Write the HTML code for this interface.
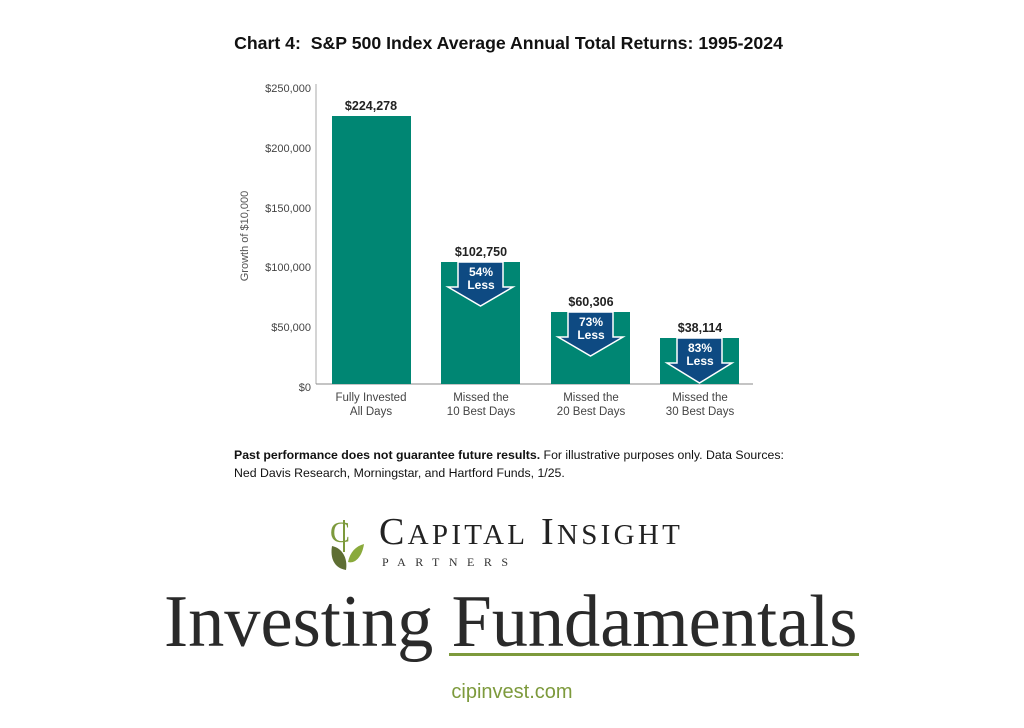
<!DOCTYPE html>
<html><head><style>
body{margin:0;background:#fff;width:1024px;height:728px;overflow:hidden;position:relative;font-family:"Liberation Sans",sans-serif}
.a{position:absolute;white-space:nowrap}
</style></head><body>
<div class="a" style="left:0;width:1017px;top:33px;text-align:center;font-weight:bold;font-size:17.7px;color:#111">Chart 4:&nbsp; S&amp;P 500 Index Average Annual Total Returns: 1995-2024</div>
<svg class="a" style="left:0;top:0" width="1024" height="440" font-family="Liberation Sans,sans-serif">
<g font-size="11" fill="#444" text-anchor="end">
<text x="311" y="92">$250,000</text><text x="311" y="152">$200,000</text><text x="311" y="212">$150,000</text><text x="311" y="271">$100,000</text><text x="311" y="331">$50,000</text><text x="311" y="391">$0</text>
</g>
<text transform="translate(248,236) rotate(-90)" font-size="11" fill="#555" text-anchor="middle">Growth of $10,000</text>
<line x1="316" y1="84" x2="316" y2="384" stroke="#aaa"/>
<line x1="316" y1="384" x2="753" y2="384" stroke="#888"/>
<g fill="#008673">
<rect x="332" y="116" width="79" height="268"/>
<rect x="441" y="262" width="79" height="122"/>
<rect x="551" y="312" width="79" height="72"/>
<rect x="660" y="338" width="79" height="46"/>
</g>
<g fill="#0e4a82" stroke="#fff" stroke-width="1.5">
<path d="M458 262H503V287H513L480.5 306L448 287H458Z"/>
<path d="M568 312H613V337H623L590.5 356L558 337H568Z"/>
<path d="M677 338H722V363H732L699.5 383L667 363H677Z"/>
</g>
<g font-size="12" font-weight="bold" fill="#fff" text-anchor="middle">
<text x="481" y="276">54%</text><text x="481" y="289">Less</text>
<text x="591" y="326">73%</text><text x="591" y="339">Less</text>
<text x="700" y="352">83%</text><text x="700" y="365">Less</text>
</g>
<g font-size="12.5" font-weight="bold" fill="#222" text-anchor="middle">
<text x="371" y="110">$224,278</text><text x="481" y="256">$102,750</text><text x="591" y="306">$60,306</text><text x="700" y="332">$38,114</text>
</g>
<g font-size="11.5" fill="#444" text-anchor="middle">
<text x="371" y="401">Fully Invested</text><text x="371" y="415">All Days</text>
<text x="481" y="401">Missed the</text><text x="481" y="415">10 Best Days</text>
<text x="591" y="401">Missed the</text><text x="591" y="415">20 Best Days</text>
<text x="700" y="401">Missed the</text><text x="700" y="415">30 Best Days</text>
</g>
</svg>
<div class="a" style="left:234px;top:446px;font-size:12.3px;line-height:18px;color:#111"><b>Past performance does not guarantee future results.</b> For illustrative purposes only. Data Sources:<br>Ned Davis Research, Morningstar, and Hartford Funds, 1/25.</div>
<svg class="a" style="left:326px;top:512px" width="44" height="62">
<text x="4" y="30" font-family="Liberation Serif,serif" font-size="30" fill="#7d9a3c">C</text>
<line x1="18" y1="8" x2="18" y2="40" stroke="#7d9a3c" stroke-width="2"/>
<path d="M6 34C16 36 22 46 20 58C8 56 4 46 6 34Z" fill="#5e6e33"/>
<path d="M38 32C36 46 28 52 22 50C24 40 30 34 38 32Z" fill="#8aaa3c"/>
</svg>
<div class="a" style="left:379px;top:512px;font-family:'Liberation Serif',serif;font-size:38px;letter-spacing:3.3px;color:#222;line-height:40px">C<span style="font-size:29px">APITAL</span> I<span style="font-size:29px">NSIGHT</span></div>
<div class="a" style="left:382px;top:555px;font-family:'Liberation Serif',serif;font-size:12px;letter-spacing:9.5px;color:#333">PARTNERS</div>
<div class="a" style="left:164px;top:582px;font-family:'Liberation Serif',serif;font-size:74px;color:#2a2a2a;line-height:80px;transform:scaleX(0.978);transform-origin:0 0">Investing Fundamentals</div>
<div class="a" style="left:449px;top:653px;width:410px;height:3px;background:#7d9a3c"></div>
<div class="a" style="left:0;width:1024px;top:681px;text-align:center;font-size:20px;color:#7d9a3c">cipinvest.com</div>
</body></html>
